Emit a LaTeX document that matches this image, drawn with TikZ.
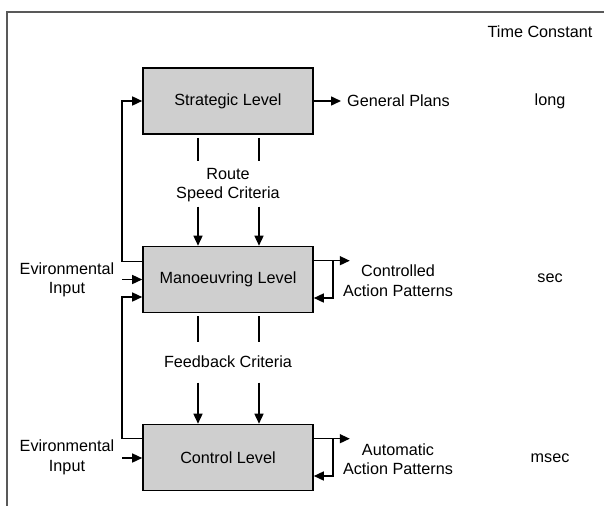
\documentclass[tikz,border=0pt]{standalone}
\usepackage{fontspec}
\setmainfont{Liberation Sans}
\usetikzlibrary{arrows.meta,calc}
\begin{document}
\begin{tikzpicture}[x=1pt,y=-1pt,
  every node/.style={font=\fontsize{16.2}{19.5}\selectfont, inner sep=0pt},
  level/.style={draw=black, line width=1.6pt, fill=gray!38, minimum width=170pt, minimum height=66pt},
  conn/.style={line width=1.5pt},
  arr/.style={conn, -{Triangle[length=10pt,width=9pt]}},
  lbl/.style={align=center}]
\useasboundingbox (0,0) rectangle (604,506);
\draw[line width=2pt, draw=black!65] (604,12) -- (7,12) -- (7,506);

\node[level] (strat) at (228,101) {Strategic Level};
\node[level] (man) at (228,279.5) {Manoeuvring Level};
\node[level] (ctrl) at (228,457.5) {Control Level};

% labels
\node[lbl] (route) at (228,185) {Route\\Speed Criteria};
\node[lbl] (fb) at (228,362) {Feedback Criteria};
\node[anchor=west] (gp) at (347,101) {General Plans};
\coordinate (gpin) at (341,101);
\node[lbl] (env1) at (67,280) {Evironmental\\Input};
\node[lbl] (env2) at (67,457.5) {Evironmental\\Input};
\node[lbl] (cap) at (398,280.5) {Controlled\\Action Patterns};
\node[lbl] (aap) at (398,459) {Automatic\\Action Patterns};
\node (tc) at (540,32) {Time Constant};
\node (tlong) at (550,101) {long};
\node (tsec) at (550,278) {sec};
\node (tmsec) at (550,458) {msec};

% strategic outputs
\draw[arr] (strat.east) -- (gpin);
\draw[conn] ($(strat.south)+(-30,3)$) -- ($(strat.south)+(-30,26)$);
\draw[conn] ($(strat.south)+(31,3)$) -- ($(strat.south)+(31,26)$);
\draw[arr] ($(man.north)+(-30,-39)$) -- ($(man.north)+(-30,0)$);
\draw[arr] ($(man.north)+(31,-39)$) -- ($(man.north)+(31,0)$);

% manoeuvring outputs
\draw[conn] ($(man.south)+(-30,3)$) -- ($(man.south)+(-30,29)$);
\draw[conn] ($(man.south)+(31,3)$) -- ($(man.south)+(31,29)$);
\draw[arr] ($(ctrl.north)+(-30,-41)$) -- ($(ctrl.north)+(-30,0)$);
\draw[arr] ($(ctrl.north)+(31,-41)$) -- ($(ctrl.north)+(31,0)$);

% feedback loops on the left
\draw[arr] ($(man.north west)+(0,16)$) -| (122,101) -- (strat.west);
\draw[arr] ($(ctrl.north west)+(0,15)$) -| (122,297) -- ($(man.west)+(0,17.5)$);

% environmental input
\draw[arr] (122,279.5) -- (man.west);
\draw[arr] (122,458) -- ($(ctrl.west)+(0,0.5)$);

% action pattern loops on the right
\draw[arr] ($(man.north east)+(0,15)$) -- ++(36,0);
\draw[arr] ($(man.north east)+(19,15)$) |- ($(man.east)+(0,18.5)$);
\draw[arr] ($(ctrl.north east)+(0,15)$) -- ++(36,0);
\draw[arr] ($(ctrl.north east)+(19,15)$) |- ($(ctrl.east)+(0,18.5)$);
\end{tikzpicture}
\end{document}
